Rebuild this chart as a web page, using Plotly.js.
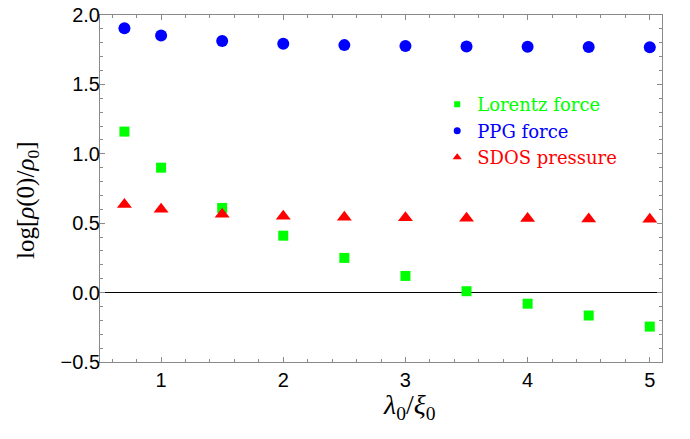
<!DOCTYPE html>
<html>
<head>
<meta charset="utf-8">
<script src="https://cdn.plot.ly/plotly-3.0.1.min.js"></script>
<style>html,body{margin:0;padding:0;background:#fff;}#chart{width:690px;height:439px;}</style>
</head>
<body>
<div id="chart"></div>
<script>
const xValues = [0.7, 1, 1.5, 2, 2.5, 3, 3.5, 4, 4.5, 5];
const lorentzForce = [1.16, 0.90, 0.61, 0.41, 0.25, 0.12, 0.01, -0.08, -0.165, -0.245];
const ppgForce = [1.905, 1.853, 1.812, 1.793, 1.783, 1.777, 1.773, 1.771, 1.769, 1.767];
const sdosPressure = [0.635, 0.600, 0.565, 0.550, 0.543, 0.539, 0.536, 0.534, 0.531, 0.529];
const seriesNames = ['Lorentz force', 'PPG force', 'SDOS pressure'];
const seriesColors = ['rgb(0,255,0)', 'rgb(0,0,255)', 'rgb(255,0,0)'];
const seriesSymbols = ['square', 'circle', 'triangle-up'];
const seriesData = [lorentzForce, ppgForce, sdosPressure];
const markerSizes = [10, 12, 13];
const legendSizes = [6, 7, 8];
const yTickVals = [-0.5, 0, 0.5, 1, 1.5, 2];
const xTickVals = [1, 2, 3, 4, 5];

const serifFont = "Liberation Serif, DejaVu Serif, serif";
const legendFont = "DejaVu Serif, Liberation Serif, serif";
const sansFont = "Liberation Sans, Arial, sans-serif";

const traces = [];
seriesData.forEach((ys, i) => {
  traces.push({
    x: xValues, y: ys, type: 'scatter', mode: 'markers', showlegend: false,
    marker: {symbol: seriesSymbols[i], size: markerSizes[i], color: seriesColors[i], line: {width: 0}},
    hoverinfo: 'x+y', name: seriesNames[i]
  });
});
seriesData.forEach((ys, i) => {
  traces.push({
    x: [null], y: [null], type: 'scatter', mode: 'markers', showlegend: true,
    marker: {symbol: seriesSymbols[i], size: legendSizes[i], color: seriesColors[i], line: {width: 0}},
    name: '<span style="color:' + seriesColors[i] + '">' + seriesNames[i] + '</span>'
  });
});

const frameColor = '#8a8a8a';
const layout = {
  width: 690, height: 439,
  margin: {l: 100, r: 28, t: 15, b: 77},
  paper_bgcolor: '#fff', plot_bgcolor: '#fff',
  font: {family: serifFont},
  showlegend: true,
  legend: {
    x: 0.6, y: 0.795, xanchor: 'left', yanchor: 'top',
    bgcolor: 'rgba(0,0,0,0)', borderwidth: 0,
    font: {family: legendFont, size: 18, color: '#000'},
    itemsizing: 'trace', tracegroupgap: 0
  },
  xaxis: {
    range: [0.5, 5.1], tickvals: xTickVals, ticks: 'inside', ticklen: 5, tickcolor: frameColor,
    showline: true, linecolor: frameColor, linewidth: 1, mirror: 'allticks',
    showgrid: false, zeroline: false,
    minor: {dtick: 0.2, tick0: 0, ticks: 'inside', ticklen: 3, tickcolor: frameColor, showgrid: false},
    tickfont: {family: sansFont, size: 20, color: '#000'}
  },
  yaxis: {
    range: [-0.5, 2.0], tickvals: yTickVals, tickformat: '.1f', ticks: 'inside', ticklen: 5, tickcolor: frameColor,
    showline: true, linecolor: frameColor, linewidth: 1, mirror: 'allticks',
    showgrid: false, zeroline: true, zerolinecolor: '#000', zerolinewidth: 1, ticklabelstandoff: -5,
    minor: {dtick: 0.1, tick0: 0, ticks: 'inside', ticklen: 3, tickcolor: frameColor, showgrid: false},
    tickfont: {family: sansFont, size: 20, color: '#000'}
  },
  annotations: [
    {text: '<i>λ</i><sub>0</sub>/<i>ξ</i><sub>0</sub>', xref: 'paper', yref: 'paper',
     x: (409 - 100) / 562, y: (362 - 406) / 347, xanchor: 'center', yanchor: 'middle', showarrow: false,
     font: {family: serifFont, size: 28, color: '#000'}},
    {text: 'log[<i>ρ</i>(0)/<i>ρ</i><sub>0</sub>]', xref: 'paper', yref: 'paper',
     x: (27 - 100) / 562, y: (362 - 201) / 347, xanchor: 'center', yanchor: 'middle', showarrow: false, textangle: -90,
     font: {family: serifFont, size: 25, color: '#000'}}
  ]
};

Plotly.newPlot('chart', traces, layout, {displayModeBar: false, staticPlot: true});
</script>
</body>
</html>
